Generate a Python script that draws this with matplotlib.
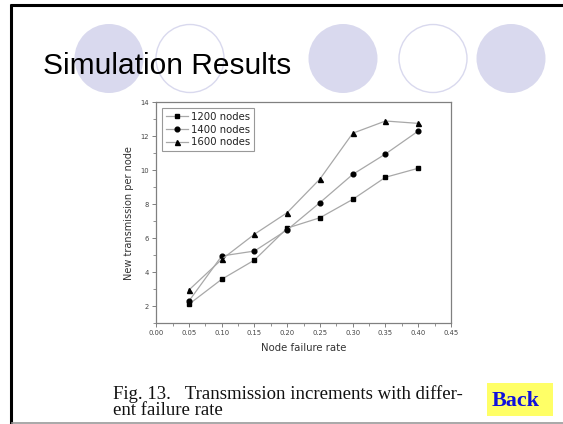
import matplotlib
matplotlib.use('Agg')
import matplotlib.pyplot as plt
from matplotlib.patches import Circle, Rectangle
from matplotlib.ticker import MultipleLocator, FormatStrFormatter

# данные графика
failure_rate = [0.05, 0.10, 0.15, 0.20, 0.25, 0.30, 0.35, 0.40]
nodes_1200 = [2.12, 3.59, 4.72, 6.60, 7.21, 8.29, 9.59, 10.12]
nodes_1400 = [2.31, 4.96, 5.25, 6.50, 8.10, 9.76, 10.96, 12.31]
nodes_1600 = [2.96, 4.76, 6.24, 7.51, 9.49, 12.18, 12.90, 12.76]
series_labels = ['1200 nodes', '1400 nodes', '1600 nodes']

W, H = 563, 424
fig = plt.figure(figsize=(W / 100, H / 100), dpi=100)

# фон слайда в пиксельных координатах
bg = fig.add_axes([0, 0, 1, 1])
bg.set_xlim(0, W)
bg.set_ylim(H, 0)
bg.axis('off')

lav = '#d9d9ee'
for cx, filled in [(109, True), (190, False), (343, True), (433, False), (511, True)]:
    if filled:
        bg.add_patch(Circle((cx, 58.5), 34.5, facecolor=lav, edgecolor='none'))
    else:
        bg.add_patch(Circle((cx, 58.5), 34, facecolor='none', edgecolor=lav, lw=1.0))

bg.text(43, 74, 'Simulation Results', fontsize=21.5, family='Liberation Sans',
        color='black', va='baseline', ha='left')

# рамки слайда
bg.plot([11.2, 11.2], [4, H], color='black', lw=2.2, solid_capstyle='butt')
bg.plot([10, W], [5.3, 5.3], color='black', lw=2.2, solid_capstyle='butt')
bg.plot([12, W], [422.7, 422.7], color='#999999', lw=1.2)

# подпись рисунка
bg.text(113, 398.7, 'Fig. 13.   Transmission increments with differ-', fontsize=13.5,
        family='Liberation Serif', va='baseline', ha='left', color='#111111')
bg.text(113, 415.3, 'ent failure rate', fontsize=13.5,
        family='Liberation Serif', va='baseline', ha='left', color='#111111')

# кнопка Back
bg.add_patch(Rectangle((487, 383), 66, 33, facecolor='#ffff66', edgecolor='none'))
bg.text(491.5, 406, 'Back', fontsize=15.8, family='Liberation Serif', weight='bold',
        color='#1010dd', va='baseline', ha='left')

# сам график
left, top, right, bottom = 156.2, 102.3, 451.0, 323.3
ax = fig.add_axes([left / W, 1 - bottom / H, (right - left) / W, (bottom - top) / H])
ax.patch.set_alpha(0)

line_kw = dict(color='#a8a8a8', lw=0.9, markerfacecolor='black', markeredgecolor='black')
ax.plot(failure_rate, nodes_1200, marker='s', markersize=3.0, label=series_labels[0], **line_kw)
ax.plot(failure_rate, nodes_1400, marker='o', markersize=3.4, label=series_labels[1], **line_kw)
ax.plot(failure_rate, nodes_1600, marker='^', markersize=3.6, label=series_labels[2], **line_kw)

ax.set_xlim(0, 0.45)
ax.set_ylim(1, 14)
ax.xaxis.set_major_locator(MultipleLocator(0.05))
ax.xaxis.set_minor_locator(MultipleLocator(0.025))
ax.yaxis.set_minor_locator(MultipleLocator(1))
ax.set_yticks([2, 4, 6, 8, 10, 12, 14])
ax.xaxis.set_major_formatter(FormatStrFormatter('%.2f'))

frame = '#808080'
for s in ax.spines.values():
    s.set_color(frame)
    s.set_linewidth(0.9)
ax.tick_params(which='major', direction='out', length=3, width=0.7, color=frame,
               labelsize=4.9, labelcolor='#444444', pad=2)
ax.tick_params(which='minor', direction='out', length=2, width=0.6, color=frame)

ax.set_xlabel('Node failure rate', fontsize=7.3, color='#333333', labelpad=5)
ax.set_ylabel('New transmission per node', fontsize=7.0, color='#333333', labelpad=5)

leg = ax.legend(loc='upper left', bbox_to_anchor=(0.02, 0.972), fontsize=7.3,
                frameon=True, fancybox=False, handlelength=2.2, handletextpad=0.3,
                borderpad=0.35, labelspacing=0.25, borderaxespad=0)
leg.get_frame().set_edgecolor(frame)
leg.get_frame().set_linewidth(0.8)
for t in leg.get_texts():
    t.set_color('#222222')

fig.savefig('out.png', dpi=100)
